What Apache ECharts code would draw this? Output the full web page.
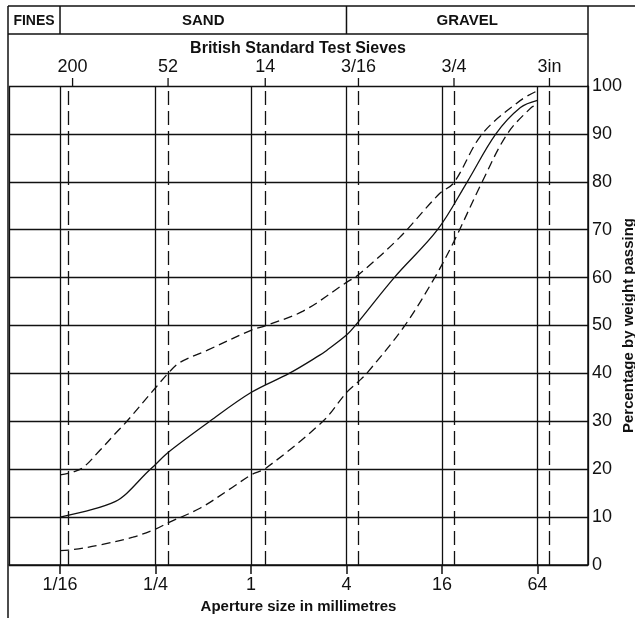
<!DOCTYPE html>
<html>
<head>
<meta charset="utf-8">
<script src="https://cdn.jsdelivr.net/npm/echarts@6/dist/echarts.min.js"></script>
<style>
html, body { margin: 0; padding: 0; background: #fff; }
#chart { width: 635px; height: 618px; }
</style>
</head>
<body>
<div id="chart"></div>
<script>
// grading envelope: aperture size (mm) vs percentage passing
const midSize = [0.0625, 0.1, 0.14, 0.165, 0.216, 0.25, 0.3, 0.55, 1, 1.74, 2.68, 3, 4, 4.55, 8, 15, 23.1, 35, 50, 64];
const midPass = [10, 11.6, 13.3, 15, 19, 21, 23.5, 30, 36, 40, 43.7, 44.8, 48, 50, 60, 70, 80, 90, 95.5, 97];

const upperSize = [0.0625, 0.075, 0.087, 0.112, 0.14, 0.165, 0.25, 0.3, 0.357, 0.528, 1, 1.24, 2.13, 4, 4.76, 8.6, 15.4, 19, 28.7, 50, 64];
const upperPass = [18.8, 19.4, 20.3, 24, 27.5, 30, 37, 40, 42.3, 44.8, 49, 50, 53, 59, 60.6, 68.3, 77.5, 79.8, 90, 97, 99];

const lowerSize = [0.0625, 0.075, 0.112, 0.18, 0.25, 0.3, 0.48, 0.77, 1, 1.24, 2.84, 4, 4.76, 5.37, 9.33, 14.4, 19, 28.7, 41.3, 59, 64];
const lowerPass = [3, 3.2, 4.2, 5.8, 7.5, 8.8, 11.9, 16.3, 18.8, 20.2, 30, 36, 38.3, 40, 50, 60, 67.5, 80, 90, 95.6, 96];

// British Standard test sieves
const sieveLabels = ['200', '52', '14', '3/16', '3/4', '3in'];
const sieveSizes = [0.075, 0.3, 1.23, 4.76, 19.05, 76.2];

// bottom axis ticks
const sizeTicks = [1 / 16, 1 / 4, 1, 4, 16, 64];
const sizeTickLabels = ['1/16', '1/4', '1', '4', '16', '64'];

// soil classes along the top
const zoneNames = ['FINES', 'SAND', 'GRAVEL'];
const zoneBounds = [1 / 16, 4];

const FONT = '"Liberation Sans", Arial, sans-serif';
const INK = '#111';

function pairs(xs, ys) {
  return xs.map((x, i) => [x, ys[i]]);
}

function sizeLabel(v) {
  for (let i = 0; i < sizeTicks.length; i++) {
    if (Math.abs(Math.log(v / sizeTicks[i])) < 0.01) return sizeTickLabels[i];
  }
  return '';
}

const chart = echarts.init(document.getElementById('chart'));

const curveBase = {
  type: 'line',
  symbol: 'none',
  smooth: 0.35,
  silent: true,
  animation: false,
  z: 5
};

chart.setOption({
  animation: false,
  grid: { left: 9, right: 47, top: 86, bottom: 53, containLabel: false, outerBoundsMode: 'none' },
  xAxis: {
    type: 'log',
    logBase: 4,
    min: 0.0298,
    max: 133.3,
    axisLine: { show: true, lineStyle: { color: INK, width: 1.5 } },
    axisTick: { show: true, length: 9, lineStyle: { color: INK, width: 1.5 } },
    axisLabel: {
      showMinLabel: false, showMaxLabel: false,
      formatter: sizeLabel,
      fontSize: 18, color: INK, margin: 11, fontFamily: FONT
    },
    splitLine: { show: true, lineStyle: { color: INK, width: 1.3 } },
    name: 'Aperture size in millimetres',
    nameLocation: 'middle',
    nameGap: 32,
    nameTextStyle: { fontWeight: 'bold', fontSize: 15, color: INK, fontFamily: FONT }
  },
  yAxis: {
    type: 'value',
    position: 'right',
    min: 0, max: 100, interval: 10,
    axisLine: { show: true, lineStyle: { color: INK, width: 1.5 } },
    axisTick: { show: false },
    axisLabel: { fontSize: 18, color: INK, margin: 4, fontFamily: FONT },
    splitLine: { show: true, lineStyle: { color: INK, width: 1.3 } },
    name: 'Percentage by weight passing',
    nameLocation: 'middle',
    nameRotate: 90,
    nameGap: 33,
    nameMoveOverlap: false,
    nameTextStyle: { fontWeight: 'bold', fontSize: 15, color: INK, fontFamily: FONT }
  },
  series: [
    Object.assign({}, curveBase, {
      name: 'mid',
      data: pairs(midSize, midPass),
      lineStyle: { color: INK, width: 1.3 },
      markLine: {
        silent: true,
        symbol: ['none', 'none'],
        label: { show: false },
        lineStyle: { color: INK, width: 1.3, type: [14, 6] },
        data: sieveSizes.map(s => ({ xAxis: s }))
      }
    }),
    Object.assign({}, curveBase, {
      name: 'upper',
      data: pairs(upperSize, upperPass),
      lineStyle: { color: INK, width: 1.3, type: [9, 5] }
    }),
    Object.assign({}, curveBase, {
      name: 'lower',
      data: pairs(lowerSize, lowerPass),
      lineStyle: { color: INK, width: 1.3, type: [9, 5] }
    })
  ]
});

// header box, sieve numbers and the short sieve stubs above the plot
const plotTop = 86, plotRight = 588, plotLeft = 8;
const headTop = 6, headRow = 34;
const line = (x1, y1, x2, y2, extra) => ({
  type: 'line', silent: true,
  shape: { x1, y1, x2, y2 },
  style: Object.assign({ stroke: INK, lineWidth: 1.5 }, extra || {})
});
const text = (t, x, y, font) => ({
  type: 'text', silent: true, x, y,
  style: { text: t, font, fill: INK, align: 'center', verticalAlign: 'middle' }
});

const px = v => chart.convertToPixel({ xAxisIndex: 0 }, v);
const bx = zoneBounds.map(px);
const edges = [plotLeft, bx[0], bx[1], plotRight];

const graphics = [
  line(plotLeft, headTop, 635, headTop),
  line(plotLeft, headTop, plotLeft, 618),
  line(plotLeft, headRow, plotRight, headRow),
  line(plotRight, headTop, plotRight, plotTop),
  line(bx[0], headTop, bx[0], headRow),
  line(bx[1], headTop, bx[1], headRow),
  text('British Standard Test Sieves', (plotLeft + plotRight) / 2, 49, 'bold 16px ' + FONT)
];
zoneNames.forEach((z, i) => {
  graphics.push(text(z, (edges[i] + edges[i + 1]) / 2, 21,
    'bold ' + (i === 0 ? 14 : 15) + 'px ' + FONT));
});
sieveSizes.forEach((s, i) => {
  const x = px(s);
  graphics.push(line(x, plotTop - 8, x, plotTop, { lineWidth: 1.3 }));
  graphics.push(text(sieveLabels[i], x, 67, '18px ' + FONT));
});

chart.setOption({ graphic: graphics });
</script>
</body>
</html>
